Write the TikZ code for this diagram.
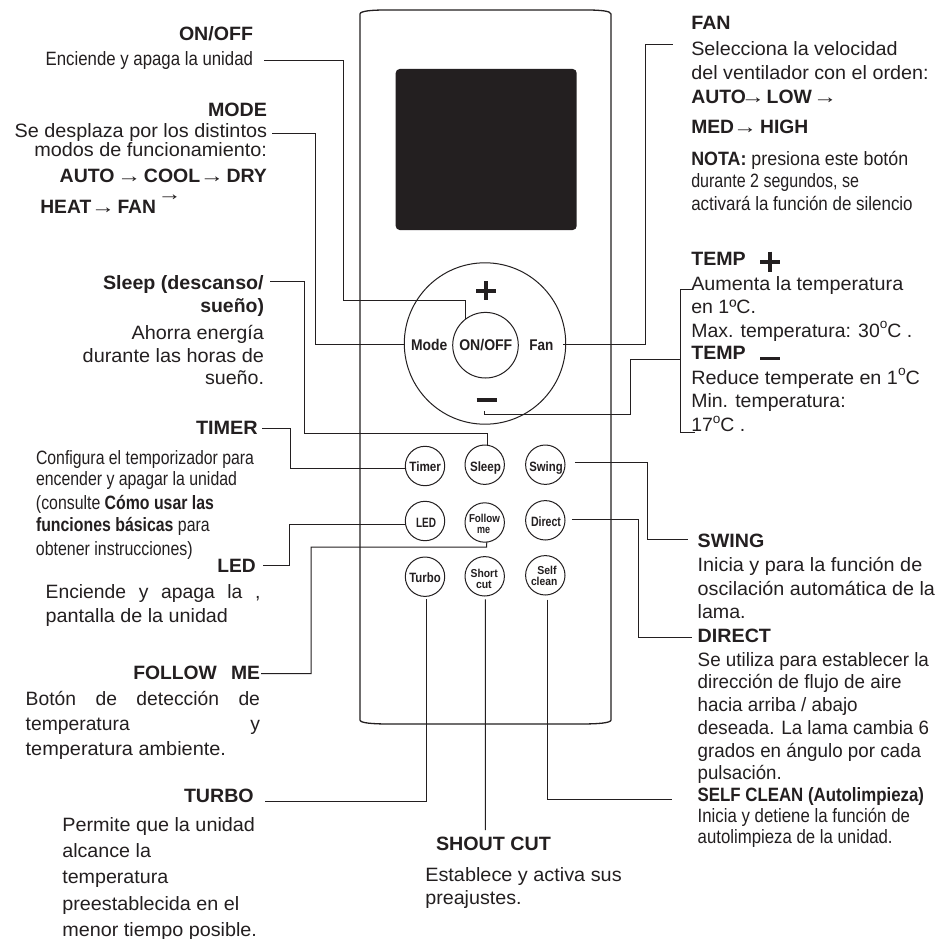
\documentclass[tikz,border=0pt]{standalone}
\usepackage{fontspec}
\setmainfont{Liberation Sans}
\definecolor{ink}{HTML}{231F20}
\tikzset{
  txt/.style={inner sep=0pt,outer sep=0pt,text=ink,anchor=base west,font=\fontsize{19.3}{23}\selectfont},
  hdr/.style={txt,font=\fontsize{19.3}{23}\selectfont\bfseries},
  keybig/.style={txt,font=\fontsize{15.5}{17}\selectfont\bfseries},
  keysmall/.style={txt,font=\fontsize{13.5}{15}\selectfont\bfseries},
  keytwo/.style={txt,font=\fontsize{11.5}{12}\selectfont\bfseries},
  wire/.style={draw=ink,line width=1pt},
  button/.style={circle,draw=ink,line width=1pt,minimum size=39.4pt,inner sep=0pt,outer sep=0pt},
  glyph/.style={draw=ink,line width=3.6pt},
  arrowtxt/.style={txt,anchor=center},
}
% name, left x, baseline y, right x, text: a line of text fitted to its width
\newcommand{\tl}[6][txt]{%
  \pgfmathsetmacro{\tlw}{#5-#3}%
  \node[#1] (#2) at (#3,#4) {\resizebox{\tlw pt}{\height}{#6}};}
% the same for a line whose spaces stretch to the width
\newcommand{\tj}[6][txt]{%
  \pgfmathsetmacro{\tlw}{#5-#3}%
  \node[#1] (#2) at (#3,#4) {\makebox[\tlw pt][s]{#6}};}
\newcommand{\ar}[1][15]{\makebox[#1pt]{\resizebox{24pt}{\height}{\mdseries →}}}
\newcommand{\dg}{\raisebox{8.5pt}{\fontsize{13.5}{14}\selectfont o}}
\begin{document}
\begin{tikzpicture}[x=1pt,y=-1pt]
\useasboundingbox (0,0) rectangle (940,939);
\fill[white] (0,0) rectangle (940,939);

% remote body
\draw[ink,line width=1.3pt] (360,14) .. controls (360,11) and (372,10) .. (385,10)
  -- (587,10) .. controls (600,10) and (611,11) .. (611,14)
  -- (611,720) .. controls (611,723) and (598,724) .. (580,724)
  -- (390,724) .. controls (372,724) and (360,723) .. (360,720) -- cycle;
\fill[ink,rounded corners=4pt] (395.7,69) rectangle (576.7,230);

% circles
\node[button,minimum size=161.4pt] (pad) at (485,343.5) {};
\node[button,minimum size=65.6pt] (onoff) at (485.5,345.2) {};
\node[button] (timer) at (425,466) {};
\node[button] (sleep) at (484.7,464.7) {};
\node[button] (swing) at (545.3,464.7) {};
\node[button] (led) at (425,521) {};
\node[button] (follow) at (484.7,522.5) {};
\node[button] (direct) at (545.3,520.3) {};
\node[button] (turbo) at (425,576.7) {};
\node[button] (short) at (484.7,576.3) {};
\node[button] (self) at (545.3,575.3) {};

% plus and minus
\draw[glyph] (476,290.7) -- (496,290.7) (486,281) -- (486,300.4);
\draw[glyph] (476.7,399.7) -- (497.3,399.7);
\draw[glyph] (760,261.7) -- (780,261.7) (770,251.7) -- (770,271.7);
\draw[glyph] (760,358.3) -- (780,358.3);

% key labels
\tl[keybig]{kmode}{411}{350.7}{447.3}{Mode}
\tl[keybig]{konoff}{459.3}{350.7}{512.3}{ON/OFF}
\tl[keybig]{kfan}{529.3}{350.7}{553.3}{Fan}
\tl[keysmall]{ktimer}{409.3}{471}{441}{Timer}
\tl[keysmall]{ksleep}{470}{471}{501}{Sleep}
\tl[keysmall]{kswing}{529.3}{471}{562.7}{Swing}
\tl[keysmall]{kled}{416}{527.3}{436}{LED}
\tl[keytwo]{kfollowa}{469}{522.3}{500}{Follow}
\tl[keytwo]{kfollowb}{477}{533}{490}{me}
\tl[keysmall]{kdirect}{531}{526.7}{561}{Direct}
\tl[keysmall]{kturbo}{409.3}{582.3}{440.7}{Turbo}
\tl[keytwo]{kshorta}{470.7}{577}{497.7}{Short}
\tl[keytwo]{kshortb}{476}{588.5}{491.7}{cut}
\tl[keytwo]{kselfa}{537.3}{574}{556.7}{Self}
\tl[keytwo]{kselfb}{531}{585.5}{557.3}{clean}

% left column
\tl[hdr]{onoffh}{179}{40.7}{253}{ON/OFF}
\tl{onofft}{45.7}{65.7}{253}{Enciende y apaga la unidad}
\tl[hdr]{modeh}{208}{116.7}{267}{MODE}
\tl{modea}{14.7}{137.7}{267}{Se desplaza por los distintos}
\tl{modeb}{34.3}{157}{267}{modos de funcionamiento:}
\tl[hdr]{modec}{59.7}{182.7}{267}{AUTO\kern7pt\ar\kern7pt COOL\kern4pt\ar\kern7pt DRY}
\tl[hdr]{moded}{40.3}{213.3}{156}{HEAT\kern4.3pt\ar\kern7pt FAN}
\node[arrowtxt] (modee) at (169.5,198) {\resizebox{24pt}{\height}{→}};
\tl[hdr]{sleeph}{103}{289}{263.7}{Sleep (descanso/}
\tl[hdr]{sleepi}{200.3}{312.7}{264}{sueño)}
\tl{sleepa}{131.7}{339}{264}{Ahorra energía}
\tl{sleepb}{82.7}{362}{264}{durante las horas de}
\tl{sleepc}{205}{384}{264}{sueño.}
\tl[hdr]{timerh}{196}{434}{257.7}{TIMER}
\tl{timera}{36}{464}{254}{Configura el temporizador para}
\tl{timerb}{36}{485.7}{237}{encender y apagar la unidad}
\tl{timerc}{36}{509}{214}{(consulte \textbf{Cómo usar las}}
\tl{timerd}{36}{531.7}{209.7}{\textbf{funciones básicas} para}
\tl{timere}{36}{555}{192.7}{obtener instrucciones)}
\tl[hdr]{ledh}{217.3}{572.3}{255.7}{LED}
\tj{leda}{45.7}{598.3}{260.5}{Enciende y apaga la ,}
\tl{ledb}{45.7}{622.3}{228}{pantalla de la unidad}
\tj[hdr]{followh}{133.3}{679}{260}{FOLLOW ME}
\tj{followa}{25.7}{705}{260}{Botón de detección de}
\tj{followb}{25.7}{730}{260}{temperatura y}
\tl{followc}{25.7}{755}{226}{temperatura ambiente.}
\tl[hdr]{turboh}{184}{802.7}{253.7}{TURBO}
\tl{turboa}{62.3}{831}{255}{Permite que la unidad}
\tl{turbob}{62.3}{857.7}{151}{alcance la}
\tl{turboc}{62.3}{883.3}{168.3}{temperatura}
\tl{turbod}{62.3}{910}{239.3}{preestablecida en el}
\tl{turboe}{62.3}{936.7}{257}{menor tiempo posible.}

% bottom centre
\tl[hdr]{shorth}{436}{850.7}{551}{SHOUT CUT}
\tl{shorta}{425.3}{881.7}{621.7}{Establece y activa sus}
\tl{shortb}{425.3}{904.3}{521.7}{preajustes.}

% right column, top
\tl[hdr]{fanh}{691.3}{30}{730.7}{FAN}
\tl{fana}{691.3}{56}{897.7}{Selecciona la velocidad}
\tl{fanb}{691.3}{80}{928.7}{del ventilador con el orden:}
\tl[hdr]{fanc}{691.3}{104}{832.3}{AUTO\ar[14]\kern6.7pt LOW\kern6.3pt\ar[14]}
\tl[hdr]{fand}{691.3}{134}{808.3}{MED\kern4pt\ar[14]\kern8pt HIGH}
\tl{fane}{691.3}{165}{908.3}{\textbf{NOTA:} presiona este botón}
\tl{fanf}{691.3}{187}{859}{durante 2 segundos, se}
\tl{fang}{691.3}{210}{912.7}{activará la función de silencio}
\tl[hdr]{tempph}{691.3}{265}{745.7}{TEMP}
\tl{temppa}{691.3}{290}{903.3}{Aumenta la temperatura}
\tl{temppb}{691.3}{313}{756}{en 1ºC.}
\tl{temppc}{691.3}{337.3}{912.3}{Max. temperatura: 30\dg C .}
\tl[hdr]{tempmh}{691.3}{359}{745.7}{TEMP}
\tl{tempma}{691.3}{384}{920}{Reduce temperate en 1\dg C}
\tl{tempmb}{691.3}{407.7}{845.7}{Min. temperatura:}
\tl{tempmc}{691.3}{431.7}{745.3}{17\dg C .}

% right column, bottom
\tl[hdr]{swingh}{697.7}{547.3}{764.3}{SWING}
\tl{swinga}{697.7}{571}{922.3}{Inicia y para la función de}
\tl{swingb}{697.7}{595}{935}{oscilación automática de la}
\tl{swingc}{697.7}{618.3}{745.7}{lama.}
\tl[hdr]{directh}{697.7}{642.3}{771}{DIRECT}
\tl{directa}{697.7}{666}{929}{Se utiliza para establecer la}
\tl{directb}{697.7}{688.7}{901.7}{dirección de flujo de aire}
\tl{directc}{697.7}{711}{857.7}{hacia arriba / abajo}
\tl{directd}{697.7}{734.3}{929}{deseada. La lama cambia 6}
\tl{directe}{697.7}{757}{921}{grados en ángulo por cada}
\tl{directf}{697.7}{779.3}{781.7}{pulsación.}
\tl[hdr]{selfh}{697.7}{801.7}{924}{SELF CLEAN (Autolimpieza)}
\tl{selfa}{697.7}{822}{910}{Inicia y detiene la función de}
\tl{selfb}{697.7}{843.3}{892.7}{autolimpieza de la unidad.}

% free ends of connectors
\coordinate (conoff) at (264,60.7);
\coordinate (cmode) at (272.3,134);
\coordinate (csleep) at (270,281.7);
\coordinate (ctimer) at (262.3,428);
\coordinate (cled) at (263.3,565);
\coordinate (cfollow) at (261,673.7);
\coordinate (cturbo) at (265,801.7);
\coordinate (cshort) at (485.3,830);
\coordinate (cself) at (671.7,799);
\coordinate (cdirect) at (691.7,637.7);
\coordinate (cswing) at (688.3,539.7);
\coordinate (cfan) at (673.3,45);
\coordinate (cfanin) at (563.3,344.5);
\coordinate (cbrtop) at (693.3,289.3);
\coordinate (cbrbot) at (695,432.3);
\coordinate (cbrmid) at (680.3,359.3);
\coordinate (cminus) at (484,411);

% connectors
\draw[wire] (conoff) -| (343.3,300) -| (onoff.128.7);
\draw[wire] (cmode) -- (315.7,134) |- (pad.181.8);
\draw[wire] (csleep) -| (304,433.3) -| (sleep.83);
\draw[wire] (ctimer) -- (290,428) |- (timer.186.7);
\draw[wire] (cled) -- (289.3,565) |- (led.189.6);
\draw[wire] (cfollow) -- (311,673.7) |- (486.7,547) -- (follow.276);
\draw[wire,shorten >=2.5pt] (cturbo) -| (turbo.274);
\draw[wire,shorten <=3.3pt] (short.272) -- (cshort);
\draw[wire,shorten <=4.8pt] (self.275) |- (cself);
\draw[wire,shorten <=7pt] (direct.3) -| (638.3,637.7) -- (cdirect);
\draw[wire,shorten <=10pt] (swing.7) -| (647.7,539.7) -- (cswing);
\draw[wire] (cfanin) -| (645.3,45) -- (cfan);
\draw[wire] (cbrtop) -- (680.3,289.3) |- (cbrbot);
\draw[wire] (cbrmid) -| (630.7,414) -| (cminus);
\end{tikzpicture}
\end{document}
